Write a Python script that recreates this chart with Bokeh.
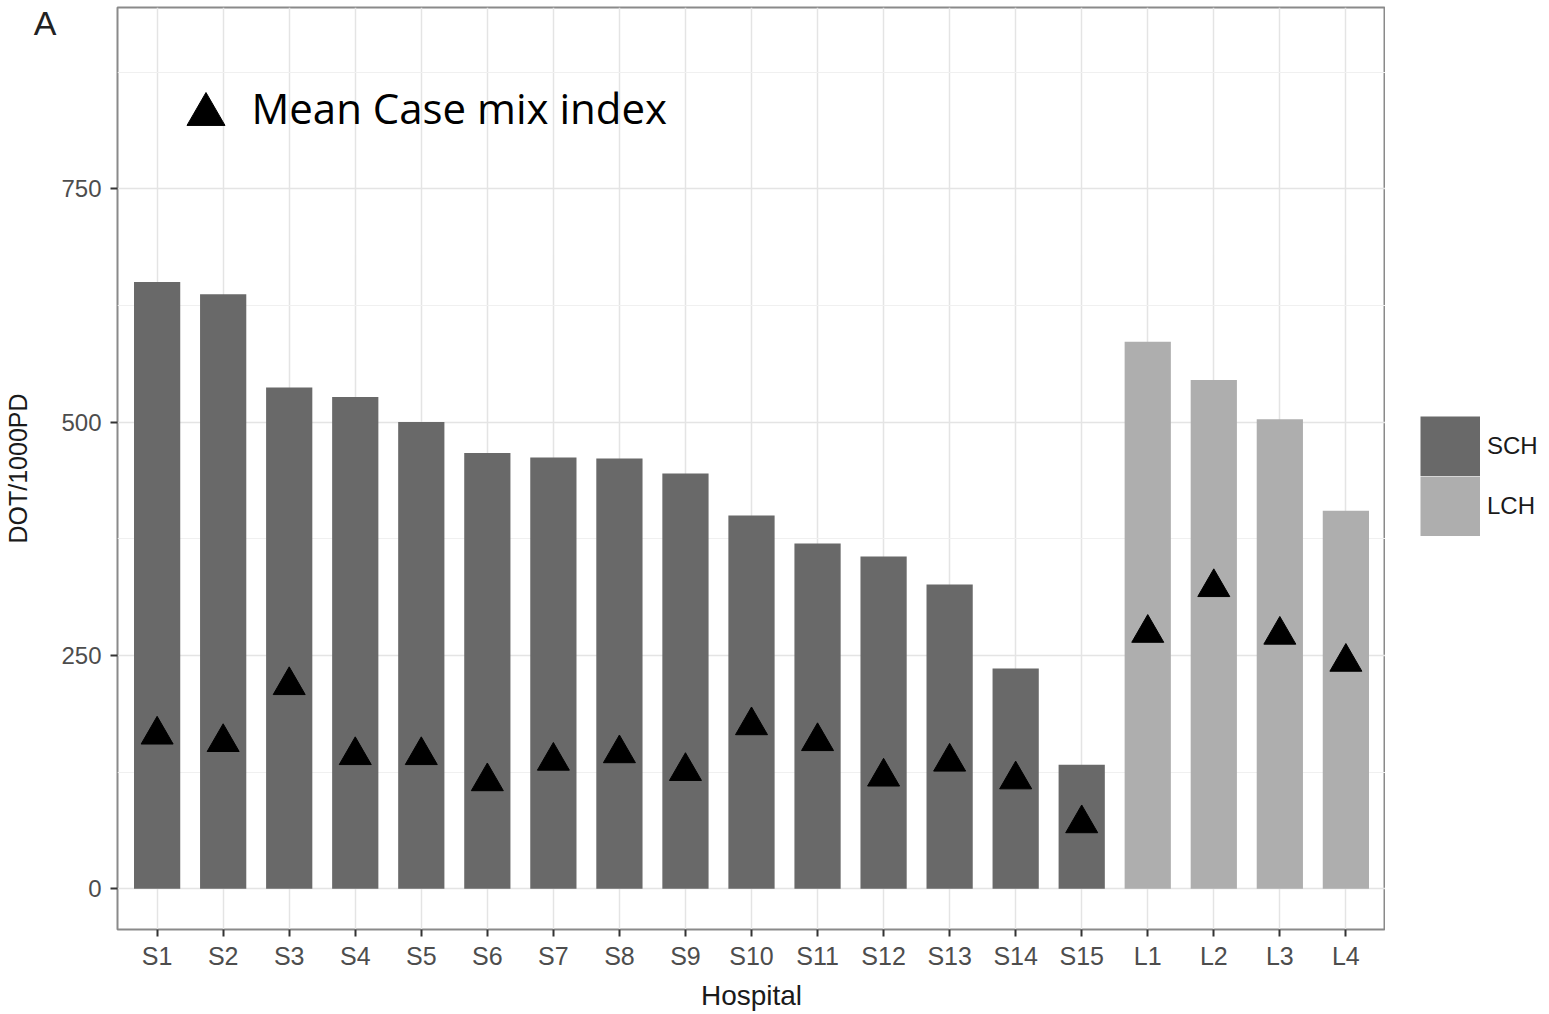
from bokeh.plotting import figure
from bokeh.layouts import row
from bokeh.models import (Range1d, FixedTicker, Label, Legend, LegendItem,
                          ColumnDataSource, LinearAxis)
from bokeh.embed import file_html
from bokeh.resources import INLINE

hospitals = ["S1", "S2", "S3", "S4", "S5", "S6", "S7", "S8", "S9", "S10",
             "S11", "S12", "S13", "S14", "S15", "L1", "L2", "L3", "L4"]
group = ["SCH"] * 15 + ["LCH"] * 4
dot_per_1000pd = [650, 637, 537, 527, 500, 467, 462, 461, 445, 400,
                  370, 356, 326, 236, 133, 586, 545, 503, 405]
mean_cmi = [165, 157, 218, 143, 143, 115, 137, 145, 126, 175,
            158, 120, 136, 117, 70, 274, 323, 272, 243]
y_ticks = [0, 250, 500, 750]
y_minor = [125, 375, 625, 875]
groups = ["SCH", "LCH"]
group_colors = {"SCH": "#696969", "LCH": "#aeaeae"}

xpos = list(range(1, len(hospitals) + 1))

p = figure(frame_width=1268, frame_height=922, output_backend="svg",
           toolbar_location=None,
           x_range=Range1d(0.4, 19.6), y_range=Range1d(-43.6, 944.2),
           min_border_left=117, min_border_right=0, min_border_top=7,
           min_border_bottom=85)

sources = {}
for g in groups:
    idx = [i for i, gg in enumerate(group) if gg == g]
    sources[g] = ColumnDataSource(dict(x=[xpos[i] for i in idx],
                                       top=[dot_per_1000pd[i] for i in idx]))
    p.vbar(x="x", top="top", bottom=0, width=0.7, source=sources[g],
           fill_color=group_colors[g], line_color=None)

p.scatter(x=xpos, y=mean_cmi, marker="triangle", size=32,
          fill_color="black", line_color="black")

# in-panel key for the triangles
p.scatter(x=[1.74], y=[829.6], marker="triangle", size=38,
          fill_color="black", line_color="black")
p.add_layout(Label(x=2.428, y=837.1, text="Mean Case mix index",
                   text_font="Open Sans", text_font_size="42px",
                   text_color="black", text_baseline="alphabetic"))

# axes
p.xaxis.ticker = FixedTicker(ticks=xpos)
p.xaxis.major_label_overrides = {x: h for x, h in zip(xpos, hospitals)}
p.yaxis.ticker = FixedTicker(ticks=y_ticks, minor_ticks=y_minor)
p.xaxis.axis_label = "Hospital"

# outer left axis carries the panel tag "A" and the y title
tag_axis = LinearAxis(ticker=FixedTicker(ticks=[927.1]),
                      major_label_overrides={927.1: "A"},
                      axis_label="DOT/1000PD")
p.add_layout(tag_axis, "left")

for ax in (p.xaxis[0], p.yaxis[0]):
    ax.axis_line_color = None
    ax.major_tick_line_color = "#333333"
    ax.major_tick_line_width = 2
    ax.major_tick_out = 7
    ax.major_tick_in = 0
    ax.minor_tick_line_color = None
    ax.major_label_text_font = "Liberation Sans"
    ax.major_label_text_color = "#4d4d4d"
p.xaxis[0].major_label_text_font_size = "25px"
p.yaxis[0].major_label_text_font_size = "24px"
p.xaxis[0].major_label_standoff = 5
p.yaxis[0].major_label_standoff = 9
p.xaxis[0].axis_label_text_font = "Liberation Sans"
p.xaxis[0].axis_label_text_font_size = "28px"
p.xaxis[0].axis_label_text_font_style = "normal"
p.xaxis[0].axis_label_text_color = "#1a1a1a"
p.xaxis[0].axis_label_standoff = 7

tag_axis.axis_line_color = None
tag_axis.major_tick_line_color = None
tag_axis.minor_tick_line_color = None
tag_axis.major_tick_out = 0
tag_axis.major_tick_in = 0
tag_axis.major_label_standoff = 2
tag_axis.major_label_text_font = "Liberation Sans"
tag_axis.major_label_text_font_size = "34px"
tag_axis.major_label_text_color = "#222222"
tag_axis.axis_label_text_font = "Liberation Sans"
tag_axis.axis_label_text_font_size = "25px"
tag_axis.axis_label_text_font_style = "normal"
tag_axis.axis_label_text_color = "#1a1a1a"
tag_axis.axis_label_standoff = -1

p.xgrid.ticker = FixedTicker(ticks=xpos)
p.xgrid.grid_line_color = "#e4e4e4"
p.xgrid.grid_line_width = 1.5
p.ygrid.grid_line_color = "#e4e4e4"
p.ygrid.grid_line_width = 1.5
p.ygrid.minor_grid_line_color = "#f0f0f0"
p.ygrid.minor_grid_line_width = 1

p.outline_line_color = "#8a8a8a"
p.outline_line_width = 2
p.background_fill_color = "white"
p.border_fill_color = "white"

# legend strip to the right of the panel (its frame is aligned with the main one)
lg = figure(width=164, height=1014, output_backend="svg", toolbar_location=None,
            x_axis_type=None, y_axis_type=None, min_border=0,
            x_range=Range1d(0, 1), y_range=Range1d(0, 1))
lg.outline_line_color = None
lg.background_fill_color = "white"
lg.border_fill_color = "white"
lg.grid.visible = False
items = []
for g in groups:
    # key proxy: the group's bars as a thick line, lying outside this strip's ranges
    key = lg.line(x="x", y="top", source=sources[g], line_color=group_colors[g],
                  line_width=60, line_cap="butt")
    items.append(LegendItem(label=g, renderers=[key]))
legend = Legend(items=items, location=(35, 393), orientation="vertical",
                glyph_width=60, glyph_height=60, spacing=0, padding=0,
                margin=0, label_standoff=7, border_line_color=None,
                background_fill_alpha=0,
                label_text_font="Liberation Sans", label_text_font_size="24px",
                label_text_color="#1a1a1a")
lg.add_layout(legend)

layout = row(p, lg)
open("out.html", "w").write(file_html(layout, INLINE))
